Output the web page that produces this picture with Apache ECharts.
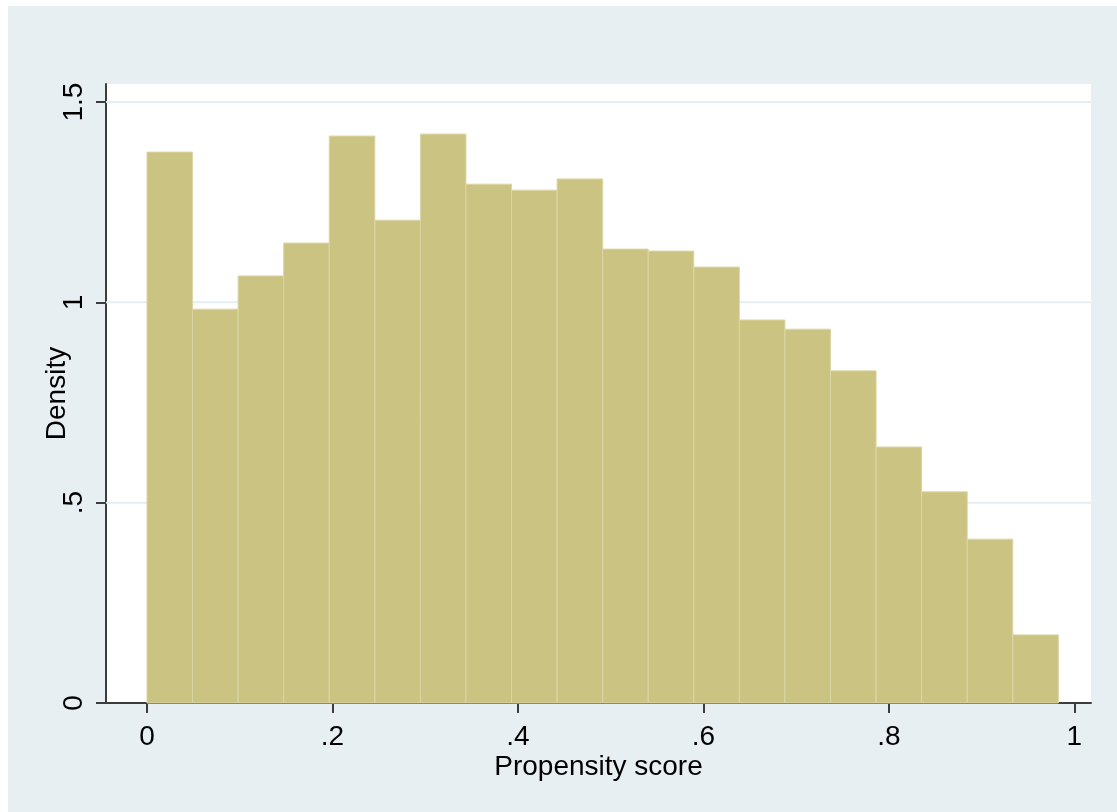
<!DOCTYPE html>
<html>
<head>
<meta charset="utf-8">
<title>Propensity score histogram</title>
<script src="https://cdn.jsdelivr.net/npm/echarts@6/dist/echarts.min.js"></script>
<style>
  html, body { margin: 0; padding: 0; background: #ffffff; }
  #chart { position: absolute; left: 8px; top: 6px; width: 1109px; height: 806px; background: #e8eff2; }
</style>
</head>
<body>
<div id="chart"></div>
<script>
// Histogram bins: 20 equal-width bins starting at 0
const binStart = 0;
const binWidth = 0.04914;
const densities = [
  1.375, 0.983, 1.066, 1.148, 1.415, 1.205, 1.420, 1.295, 1.280, 1.308,
  1.133, 1.128, 1.088, 0.956, 0.933, 0.829, 0.639, 0.527, 0.409, 0.170
];

// Axis ticks
const xTicks = [0, 0.2, 0.4, 0.6, 0.8, 1];
const yTicks = [0, 0.5, 1, 1.5];
const yGridLines = [0.5, 1, 1.5];

const xTitle = 'Propensity score';
const yTitle = 'Density';

// Stata-style labels: drop the leading zero (".2", ".5")
function stataFmt(v) {
  let s = String(Math.round(v * 1000) / 1000);
  if (s.startsWith('0.')) s = s.slice(1);
  return s;
}

const binData = densities.map((d, i) => [binStart + i * binWidth, binStart + (i + 1) * binWidth, d]);

const chart = echarts.init(document.getElementById('chart'), null, { renderer: 'canvas' });

const axisColor = '#3c3c3c';
const font = '"Liberation Sans", Arial, Helvetica, sans-serif';
const xMin = -0.0442, xMax = 1.018;

chart.setOption({
  animation: false,
  backgroundColor: '#e8eff2',
  grid: {
    left: 98, top: 78, width: 985, height: 619,
    show: true, backgroundColor: '#ffffff', borderWidth: 0
  },
  xAxis: {
    type: 'value',
    min: xMin, max: xMax,
    name: xTitle,
    nameLocation: 'middle',
    nameGap: 50,
    nameMoveOverlap: false,
    nameTextStyle: { fontFamily: font, fontSize: 28, color: '#000' },
    axisLine: { show: true, onZero: false, lineStyle: { color: axisColor, width: 2 } },
    axisTick: { show: true, length: 10, customValues: xTicks, lineStyle: { color: axisColor, width: 2 } },
    axisLabel: { customValues: xTicks, formatter: stataFmt, margin: 20, fontFamily: font, fontSize: 28, color: '#000' },
    splitLine: { show: false }
  },
  yAxis: {
    type: 'value',
    min: 0, max: 1.545,
    name: yTitle,
    nameLocation: 'middle',
    nameGap: 35,
    nameRotate: 90,
    nameMoveOverlap: false,
    nameTextStyle: { fontFamily: font, fontSize: 28, color: '#000' },
    axisLine: { show: true, onZero: false, lineStyle: { color: axisColor, width: 2 } },
    axisTick: { show: true, length: 10, customValues: yTicks, lineStyle: { color: axisColor, width: 2 } },
    axisLabel: { customValues: yTicks, formatter: stataFmt, rotate: 90, margin: 18, fontFamily: font, fontSize: 28, color: '#000' },
    splitLine: { show: false }
  },
  series: [
    {
      // horizontal grid lines, drawn under the bars
      type: 'custom',
      z: 1,
      silent: true,
      data: yGridLines.map(v => [v]),
      encode: { y: 0 },
      renderItem: function (params, api) {
        const a = api.coord([xMin, api.value(0)]);
        const b = api.coord([xMax, api.value(0)]);
        return {
          type: 'line',
          shape: { x1: a[0], y1: a[1], x2: b[0], y2: b[1] },
          style: { stroke: '#e6eef1', lineWidth: 2 }
        };
      }
    },
    {
      type: 'custom',
      z: 2,
      data: binData,
      encode: { x: [0, 1], y: 2 },
      renderItem: function (params, api) {
        const p0 = api.coord([api.value(0), 0]);
        const p1 = api.coord([api.value(1), api.value(2)]);
        return {
          type: 'rect',
          shape: { x: p0[0], y: p1[1], width: p1[0] - p0[0], height: p0[1] - p1[1] },
          style: { fill: '#cbc381', stroke: '#dcd6a6', lineWidth: 1 }
        };
      }
    }
  ]
});
</script>
</body>
</html>
